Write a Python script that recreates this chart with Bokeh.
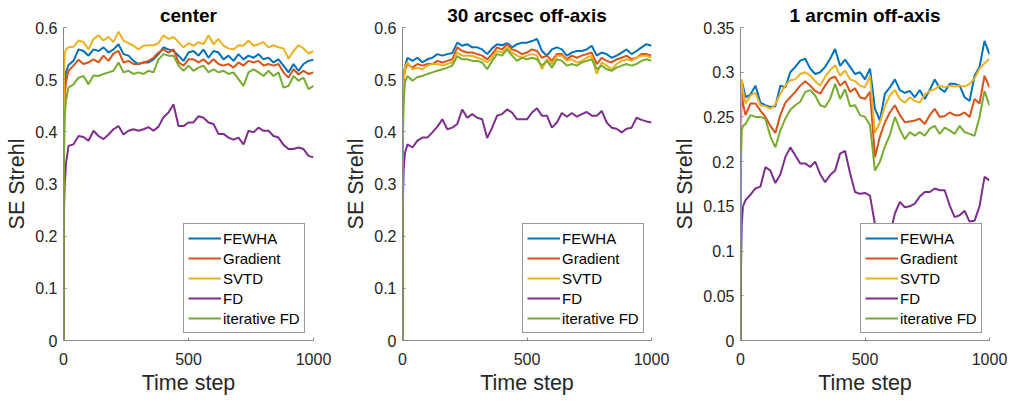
from bokeh.plotting import figure
from bokeh.layouts import row
from bokeh.models import Range1d, FixedTicker, CustomJSTickFormatter, Legend, LegendItem
from bokeh.embed import file_html
from bokeh.resources import INLINE

# ---------------- data ----------------
TIME = [0, 2, 5, 10] + list(range(20, 1001, 20))
NAMES = ["FEWHA", "Gradient", "SVTD", "FD", "iterative FD"]
COLORS = ["#0072BD", "#D95319", "#EDB120", "#7E2F8E", "#77AC30"]

TITLES = ["center", "30 arcsec off-axis", "1 arcmin off-axis"]
XTICKS = [0, 500, 1000]
YTICKS_A = [0, 0.1, 0.2, 0.3, 0.4, 0.5, 0.6]
YTICKS_B = [0, 0.05, 0.1, 0.15, 0.2, 0.25, 0.3, 0.35]
YMAX = [0.6, 0.6, 0.35]

# panel 1: center
fewha_c = [0, 0.42, 0.49, 0.515,
           0.528, 0.536, 0.558, 0.555, 0.546, 0.558, 0.555, 0.562, 0.552, 0.558,
           0.568, 0.549, 0.546, 0.536, 0.530, 0.533, 0.533, 0.539, 0.549, 0.562,
           0.558, 0.555, 0.546, 0.536, 0.552, 0.555, 0.546, 0.558, 0.542, 0.555,
           0.552, 0.539, 0.546, 0.536, 0.549, 0.539, 0.546, 0.542, 0.549, 0.539,
           0.542, 0.533, 0.539, 0.527, 0.514, 0.530, 0.517, 0.530, 0.536, 0.538]
gradient_c = [0, 0.40, 0.47, 0.495,
              0.517, 0.527, 0.538, 0.530, 0.533, 0.539, 0.533, 0.546, 0.536, 0.550,
              0.555, 0.533, 0.536, 0.530, 0.530, 0.533, 0.536, 0.542, 0.552, 0.558,
              0.552, 0.558, 0.533, 0.527, 0.539, 0.539, 0.533, 0.539, 0.530, 0.539,
              0.530, 0.527, 0.530, 0.523, 0.533, 0.527, 0.536, 0.533, 0.536, 0.527,
              0.530, 0.527, 0.530, 0.514, 0.504, 0.520, 0.510, 0.517, 0.511, 0.514]
svtd_c = [0, 0.50, 0.55, 0.558,
          0.562, 0.563, 0.575, 0.572, 0.558, 0.578, 0.585, 0.575, 0.582, 0.572,
          0.592, 0.575, 0.570, 0.565, 0.558, 0.565, 0.566, 0.566, 0.570, 0.585,
          0.578, 0.582, 0.572, 0.562, 0.570, 0.565, 0.572, 0.568, 0.585, 0.568,
          0.578, 0.565, 0.560, 0.558, 0.566, 0.565, 0.575, 0.565, 0.568, 0.572,
          0.562, 0.566, 0.562, 0.560, 0.540, 0.555, 0.566, 0.560, 0.550, 0.555]
fd_c = [0, 0.25, 0.30, 0.34,
        0.373, 0.376, 0.392, 0.390, 0.383, 0.402, 0.392, 0.386, 0.395, 0.405,
        0.411, 0.395, 0.402, 0.405, 0.402, 0.405, 0.409, 0.402, 0.410, 0.428,
        0.437, 0.453, 0.411, 0.411, 0.418, 0.418, 0.430, 0.427, 0.418, 0.415,
        0.396, 0.396, 0.389, 0.385, 0.389, 0.376, 0.402, 0.399, 0.408, 0.402,
        0.402, 0.392, 0.389, 0.375, 0.367, 0.367, 0.370, 0.367, 0.354, 0.351]
iterfd_c = [0, 0.35, 0.43, 0.46,
            0.485, 0.491, 0.504, 0.507, 0.491, 0.508, 0.507, 0.511, 0.514, 0.517,
            0.533, 0.514, 0.517, 0.511, 0.514, 0.511, 0.517, 0.514, 0.539, 0.549,
            0.546, 0.546, 0.527, 0.517, 0.527, 0.517, 0.523, 0.527, 0.514, 0.520,
            0.514, 0.517, 0.511, 0.514, 0.501, 0.488, 0.514, 0.520, 0.514, 0.507,
            0.517, 0.507, 0.514, 0.485, 0.488, 0.507, 0.498, 0.504, 0.482, 0.488]

# panel 2: 30 arcsec off-axis
fewha_30 = [0, 0.45, 0.51, 0.525,
            0.542, 0.536, 0.542, 0.533, 0.539, 0.542, 0.549, 0.546, 0.549, 0.551,
            0.571, 0.565, 0.568, 0.562, 0.562, 0.558, 0.549, 0.560, 0.568, 0.566,
            0.570, 0.562, 0.568, 0.571, 0.571, 0.574, 0.578, 0.555, 0.546, 0.558,
            0.562, 0.558, 0.546, 0.552, 0.555, 0.555, 0.558, 0.565, 0.546, 0.552,
            0.549, 0.542, 0.546, 0.552, 0.558, 0.549, 0.555, 0.562, 0.568, 0.565]
gradient_30 = [0, 0.44, 0.50, 0.52,
               0.530, 0.523, 0.530, 0.527, 0.530, 0.530, 0.536, 0.533, 0.536, 0.539,
               0.562, 0.555, 0.552, 0.552, 0.549, 0.546, 0.539, 0.549, 0.562, 0.558,
               0.568, 0.558, 0.555, 0.549, 0.552, 0.558, 0.555, 0.542, 0.546, 0.536,
               0.549, 0.549, 0.539, 0.546, 0.542, 0.546, 0.549, 0.552, 0.530, 0.542,
               0.536, 0.533, 0.539, 0.542, 0.546, 0.539, 0.542, 0.549, 0.549, 0.546]
svtd_30 = [0, 0.45, 0.50, 0.525,
           0.533, 0.520, 0.523, 0.520, 0.527, 0.530, 0.530, 0.527, 0.530, 0.533,
           0.552, 0.546, 0.546, 0.546, 0.542, 0.539, 0.533, 0.542, 0.555, 0.552,
           0.562, 0.552, 0.546, 0.542, 0.546, 0.549, 0.546, 0.520, 0.539, 0.530,
           0.546, 0.546, 0.536, 0.539, 0.533, 0.536, 0.542, 0.546, 0.511, 0.533,
           0.527, 0.520, 0.530, 0.536, 0.539, 0.536, 0.542, 0.546, 0.546, 0.542]
fd_30 = [0, 0.28, 0.33, 0.36,
         0.376, 0.370, 0.383, 0.389, 0.389, 0.399, 0.410, 0.424, 0.405, 0.408,
         0.415, 0.443, 0.427, 0.434, 0.427, 0.424, 0.388, 0.408, 0.431, 0.434,
         0.443, 0.437, 0.424, 0.424, 0.424, 0.437, 0.445, 0.431, 0.431, 0.408,
         0.418, 0.436, 0.429, 0.436, 0.429, 0.434, 0.438, 0.431, 0.431, 0.440,
         0.418, 0.408, 0.406, 0.399, 0.406, 0.408, 0.427, 0.423, 0.420, 0.418]
iterfd_30 = [0, 0.40, 0.46, 0.495,
             0.507, 0.498, 0.505, 0.507, 0.511, 0.514, 0.517, 0.520, 0.523, 0.527,
             0.545, 0.539, 0.539, 0.536, 0.536, 0.533, 0.520, 0.536, 0.549, 0.546,
             0.558, 0.546, 0.536, 0.542, 0.539, 0.542, 0.539, 0.527, 0.536, 0.523,
             0.539, 0.536, 0.527, 0.530, 0.527, 0.533, 0.536, 0.539, 0.520, 0.527,
             0.520, 0.517, 0.523, 0.527, 0.530, 0.527, 0.530, 0.536, 0.539, 0.536]

# panel 3: 1 arcmin off-axis
fewha_1 = [0, 0.27, 0.29, 0.285,
           0.272, 0.275, 0.285, 0.266, 0.263, 0.261, 0.262, 0.285, 0.283, 0.300,
           0.306, 0.313, 0.315, 0.304, 0.298, 0.300, 0.306, 0.315, 0.326, 0.307,
           0.314, 0.306, 0.298, 0.300, 0.292, 0.304, 0.259, 0.246, 0.276, 0.283,
           0.292, 0.280, 0.277, 0.279, 0.272, 0.280, 0.270, 0.280, 0.292, 0.282,
           0.278, 0.287, 0.287, 0.285, 0.272, 0.268, 0.296, 0.306, 0.335, 0.320]
gradient_1 = [0, 0.24, 0.28, 0.265,
              0.252, 0.265, 0.265, 0.257, 0.250, 0.240, 0.232, 0.252, 0.266, 0.272,
              0.278, 0.285, 0.290, 0.285, 0.279, 0.276, 0.285, 0.293, 0.295, 0.285,
              0.290, 0.278, 0.282, 0.272, 0.270, 0.278, 0.205, 0.228, 0.244, 0.255,
              0.263, 0.252, 0.244, 0.245, 0.246, 0.248, 0.242, 0.252, 0.259, 0.250,
              0.251, 0.255, 0.252, 0.252, 0.255, 0.250, 0.270, 0.265, 0.296, 0.283]
svtd_1 = [0, 0.27, 0.292, 0.28,
          0.265, 0.274, 0.277, 0.263, 0.262, 0.259, 0.264, 0.276, 0.285, 0.291,
          0.292, 0.298, 0.300, 0.296, 0.290, 0.285, 0.295, 0.302, 0.308, 0.296,
          0.302, 0.292, 0.290, 0.285, 0.283, 0.296, 0.232, 0.244, 0.262, 0.274,
          0.280, 0.270, 0.266, 0.272, 0.268, 0.266, 0.275, 0.279, 0.281, 0.285,
          0.283, 0.285, 0.284, 0.285, 0.284, 0.287, 0.293, 0.304, 0.310, 0.315]
fd_1 = [0, 0.08, 0.13, 0.15,
        0.157, 0.163, 0.170, 0.172, 0.194, 0.190, 0.176, 0.186, 0.205, 0.216,
        0.207, 0.198, 0.198, 0.194, 0.200, 0.186, 0.177, 0.185, 0.190, 0.209,
        0.212, 0.187, 0.166, 0.164, 0.165, 0.162, 0.130, 0.115, 0.112, 0.118,
        0.142, 0.155, 0.149, 0.150, 0.153, 0.161, 0.166, 0.166, 0.170, 0.168,
        0.168, 0.151, 0.138, 0.140, 0.145, 0.133, 0.134, 0.150, 0.183, 0.179]
iterfd_1 = [0, 0.20, 0.235, 0.24,
            0.242, 0.252, 0.250, 0.250, 0.248, 0.228, 0.216, 0.235, 0.248, 0.258,
            0.263, 0.267, 0.278, 0.280, 0.274, 0.263, 0.261, 0.270, 0.287, 0.270,
            0.281, 0.262, 0.263, 0.252, 0.250, 0.241, 0.190, 0.200, 0.217, 0.230,
            0.250, 0.236, 0.225, 0.233, 0.229, 0.233, 0.229, 0.237, 0.240, 0.231,
            0.238, 0.235, 0.231, 0.240, 0.233, 0.231, 0.229, 0.250, 0.279, 0.263]

PANELS = [
    [fewha_c, gradient_c, svtd_c, fd_c, iterfd_c],
    [fewha_30, gradient_30, svtd_30, fd_30, iterfd_30],
    [fewha_1, gradient_1, svtd_1, fd_1, iterfd_1],
]

# ---------------- styling / layout ----------------
FONT = "Liberation Sans"
AX_COLOR = "#8a8a8a"
TXT_COLOR = "#262626"
WIDTHS = [338, 332, 337]
BORDER_L = [63, 64, 70]
BORDER_R = [25, 19, 18]


def make_panel(i):
    ymax = YMAX[i]
    yticks = YTICKS_A if i < 2 else YTICKS_B
    p = figure(width=WIDTHS[i], height=397,
               x_range=Range1d(0, 1000), y_range=Range1d(0, ymax),
               output_backend="svg", toolbar_location=None,
               min_border_left=BORDER_L[i], min_border_right=BORDER_R[i],
               min_border_top=27, min_border_bottom=57)
    p.outline_line_color = None
    p.grid.visible = False
    p.background_fill_color = "white"
    p.border_fill_color = "white"

    p.title.text = TITLES[i]
    p.title.align = "center"
    p.title.text_font = FONT
    p.title.text_font_style = "bold"
    p.title.text_font_size = "19px"
    p.title.text_color = "#000000"
    p.title.standoff = 4

    p.xaxis.ticker = FixedTicker(ticks=XTICKS)
    p.yaxis.ticker = FixedTicker(ticks=yticks)
    p.yaxis.formatter = CustomJSTickFormatter(
        code="return String(parseFloat(tick.toFixed(3)));")
    p.xaxis.axis_label = "Time step"
    p.yaxis.axis_label = "SE Strehl"
    for ax in (p.xaxis[0], p.yaxis[0]):
        ax.axis_line_color = AX_COLOR
        ax.axis_line_width = 1
        ax.major_tick_line_color = AX_COLOR
        ax.major_tick_in = 3
        ax.major_tick_out = 0
        ax.minor_tick_line_color = None
        ax.major_label_text_font = FONT
        ax.major_label_text_font_size = "16px"
        ax.major_label_text_color = TXT_COLOR
        ax.axis_label_text_font = FONT
        ax.axis_label_text_font_size = "21.5px"
        ax.axis_label_text_font_style = "normal"
        ax.axis_label_text_color = TXT_COLOR
    p.xaxis.major_label_standoff = 12
    p.xaxis.axis_label_standoff = 3
    p.yaxis.major_label_standoff = 6
    p.yaxis.axis_label_standoff = 3

    items = []
    for series, name, color in zip(PANELS[i], NAMES, COLORS):
        r = p.line(TIME, series, line_color=color, line_width=2)
        items.append(LegendItem(label=name, renderers=[r]))

    legend = Legend(items=items, location=(120, 7))
    legend.label_text_font = FONT
    legend.label_text_font_size = "15px"
    legend.label_text_color = "#000000"
    legend.glyph_width = 33
    legend.glyph_height = 20
    legend.label_height = 20
    legend.label_standoff = 2
    legend.spacing = 0
    legend.padding = 4
    legend.margin = 0
    legend.border_line_color = "#333333"
    legend.border_line_width = 1
    legend.background_fill_color = "white"
    legend.background_fill_alpha = 1
    p.add_layout(legend)
    return p


plots = [make_panel(i) for i in range(3)]
layout = row(*plots)

open("out.html", "w").write(file_html(layout, INLINE))
